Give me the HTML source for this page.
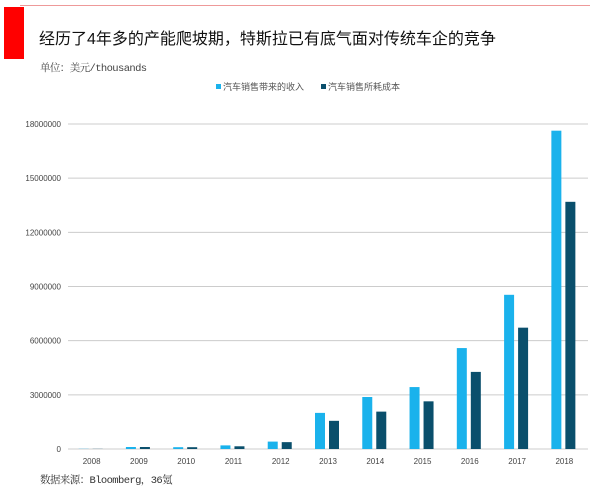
<!DOCTYPE html>
<html><head><meta charset="utf-8"><style>
body{margin:0;width:600px;height:490px;background:#fff;overflow:hidden;position:relative;font-family:"Liberation Sans","Noto Sans CJK SC",sans-serif}
.abs{position:absolute}
</style></head><body>
<div class="abs" style="left:20px;top:5px;width:570px;height:1px;background:#e99"></div>
<div class="abs" style="left:4px;top:7px;width:20px;height:52px;background:#f00"></div>
<div class="abs" style="left:39px;top:25px;font-size:16px;color:#111;white-space:nowrap">经历了4年多的产能爬坡期，特斯拉已有底气面对传统车企的竞争</div>
<div class="abs" style="left:40px;top:60px;font-size:10.5px;color:#444;font-family:'Liberation Mono','Noto Serif CJK SC',monospace;letter-spacing:-0.6px">单位：美元/thousands</div>
<div class="abs" style="left:40px;top:472px;font-size:10.5px;color:#333;font-family:'Liberation Mono','Noto Serif CJK SC',monospace;letter-spacing:-0.6px">数据来源：Bloomberg，36氪</div>
<svg class="abs" style="left:0;top:0" width="600" height="490" id="chart">
<g font-size="9" fill="#555">
<rect x="216" y="84" width="5" height="5" fill="#1ab2ec"/>
<text x="223" y="90">汽车销售带来的收入</text>
<rect x="321" y="84" width="5" height="5" fill="#0a4f6c"/>
<text x="328" y="90">汽车销售所耗成本</text>
</g>
</svg>
<script>
const categories=["2008","2009","2010","2011","2012","2013","2014","2015","2016","2017","2018"];
const revenue=[10000,110000,100000,200000,410000,2000000,2880000,3430000,5590000,8540000,17630000];
const cost=[8000,110000,100000,150000,380000,1560000,2070000,2640000,4270000,6720000,13690000];
const yTicks=[0,3000000,6000000,9000000,12000000,15000000,18000000];
const svg=document.getElementById('chart');const NS="http://www.w3.org/2000/svg";
const y0=449,y1=124,yMax=18000000,xL=68,xR=588;
const y=v=>y0-(v/yMax)*(y0-y1);
const step=(xR-xL)/categories.length;
const x=i=>xL+step*(i+0.5);
function mk(t,a){const e=document.createElementNS(NS,t);for(const k in a)e.setAttribute(k,a[k]);svg.appendChild(e);return e;}
yTicks.forEach((t,i)=>{
const l=mk('line',{x1:xL,x2:xR,y1:y(t),y2:y(t),stroke:'#ccc','stroke-width':1});


const tx=mk('text',{x:61,y:y(t)+3,'text-anchor':'end','font-size':8,fill:'#444'});tx.textContent=t;


});
categories.forEach((c,i)=>{
const cx=x(i);
const r=mk('rect',{x:cx-13,y:y(revenue[i]),width:10,height:y0-y(revenue[i]),fill:'#1ab2ec'});


const d=mk('rect',{x:cx+1,y:y(cost[i]),width:10,height:y0-y(cost[i]),fill:'#0a4f6c'});


const t=mk('text',{x:cx,y:464,'text-anchor':'middle','font-size':8,fill:'#444'});t.textContent=c;


});
</script>
</body></html>
